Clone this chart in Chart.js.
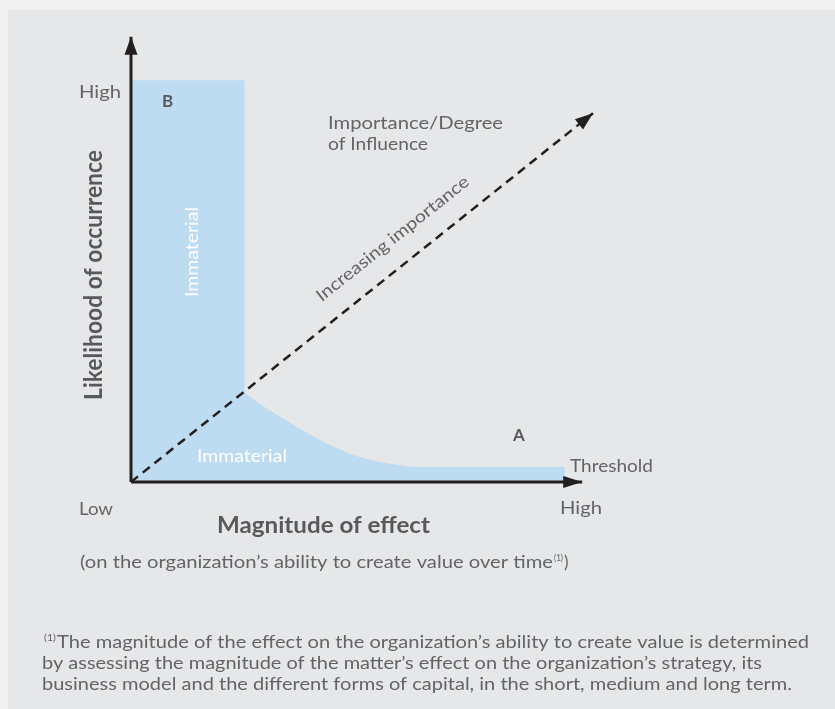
<!DOCTYPE html>
<html>
  <head>
    <title>Materiality threshold</title>
    <script src="https://cdn.jsdelivr.net/npm/chart.js"></script>
    <style>
      body {
        margin: 0;
        background: #f0f0f1;
      }
      #wrap {
        width: 835px;
        height: 709px;
      }
    </style>
  </head>
  <body>
    <div id="wrap"><canvas id="matrix" width="835" height="709"></canvas></div>

    <script>
      // x = magnitude of effect, y = likelihood of occurrence (both 0-100)
      const columnX = [0, 24.2];
      const columnY = [88.9, 88.9];
      const curveX = [24, 28.1, 35.3, 42.3, 49.4, 56.6, 60.9, 92.3];
      const curveY = [19.9, 16.8, 12.2, 8.2, 5.3, 3.8, 3.3, 3.3];
      const importanceX = [0, 98.3];
      const importanceY = [0, 81.6];
      const xAxisX = [0, 96];
      const xAxisY = [0, 0];
      const yAxisX = [0, 0];
      const yAxisY = [0, 98.5];

      const FONT = "Lato, 'Open Sans', sans-serif";
      const GREY = "#636466";
      const DARK = "#231f20";
      const BLUE = "#bddbf1";

      function pts(xs, ys) {
        return xs.map((x, i) => ({ x: x, y: ys[i] }));
      }

      function put(ctx, t, x, y, o) {
        ctx.save();
        ctx.font = (o.bold ? "bold " : "") + o.size + "px " + FONT;
        ctx.fillStyle = o.color || GREY;
        ctx.textAlign = o.align || "left";
        ctx.textBaseline = "alphabetic";
        ctx.translate(x, y);
        if (o.rot) ctx.rotate((o.rot * Math.PI) / 180);
        if (o.w) {
          const m = ctx.measureText(t).width;
          ctx.scale(o.w / m, 1);
        }
        ctx.fillText(t, 0, 0);
        ctx.restore();
      }

      const panel = {
        id: "panel",
        beforeDraw(chart) {
          const c = chart.ctx;
          c.save();
          c.fillStyle = "#e6e7e8";
          c.fillRect(8, 10, chart.width - 8, chart.height - 10);
          c.restore();
        },
      };

      // arrow head at the last point of datasets that ask for one
      const arrows = {
        id: "arrows",
        afterDatasetsDraw(chart) {
          const c = chart.ctx;
          chart.data.datasets.forEach((ds, i) => {
            if (!ds.arrow) return;
            const p = chart.getDatasetMeta(i).data;
            const a = p[p.length - 2];
            const b = p[p.length - 1];
            const ang = Math.atan2(b.y - a.y, b.x - a.x);
            const len = ds.arrow[0];
            const half = ds.arrow[1] / 2;
            c.save();
            c.translate(b.x, b.y);
            c.rotate(ang);
            c.fillStyle = DARK;
            c.beginPath();
            c.moveTo(0, 0);
            c.lineTo(-len, -half);
            c.lineTo(-len, half);
            c.closePath();
            c.fill();
            c.restore();
          });
        },
      };

      const texts = {
        id: "texts",
        afterDraw(chart) {
          const c = chart.ctx;
          put(c, "High", 121, 98, { size: 17, align: "right", w: 42 });
          put(c, "B", 162, 107, { size: 17, bold: true, color: "#58595b" });
          put(c, "Immaterial", 198, 252, { size: 17, rot: -90, align: "center", w: 90, color: "#ffffff" });
          put(c, "Likelihood of occurrence", 102, 275, { size: 25, bold: true, rot: -90, align: "center", w: 250, color: "#58595b" });
          put(c, "Importance/Degree", 328, 129, { size: 17, w: 175 });
          put(c, "of Influence", 328, 150, { size: 17, w: 100 });
          put(c, "Increasing importance", 396, 243, { size: 17, rot: -38.5, align: "center", w: 190 });
          put(c, "Immaterial", 197, 462, { size: 17, w: 90, color: "#ffffff" });
          put(c, "A", 513, 441, { size: 17, bold: true, color: "#58595b" });
          put(c, "Threshold", 570, 472, { size: 17, w: 83 });
          put(c, "High", 560, 514, { size: 17, w: 42 });
          put(c, "Low", 79, 515, { size: 17, w: 34 });
          put(c, "Magnitude of effect", 217, 533, { size: 22, bold: true, w: 213, color: "#58595b" });
          put(c, "(on the organization\u2019s ability to create value over time", 80, 568, { size: 17, w: 473 });
          put(c, "(1)", 554, 561, { size: 10, w: 9 });
          put(c, ")", 564, 568, { size: 17 });
          put(c, "(1)", 44, 641, { size: 10, w: 12 });
          put(c, "The magnitude of the effect on the organization\u2019s ability to create value is determined", 57, 648, { size: 18, w: 752 });
          put(c, "by assessing the magnitude of the matter\u2019s effect on the organization\u2019s strategy, its", 42, 669, { size: 18, w: 720 });
          put(c, "business model and the different forms of capital, in the short, medium and long term.", 42, 690, { size: 18, w: 750 });
        },
      };

      const zoneStyle = {
        fill: "origin",
        backgroundColor: BLUE,
        borderWidth: 0,
        borderColor: "rgba(0,0,0,0)",
        pointRadius: 0,
        order: 3,
        clip: false,
      };

      window.onload = () => {
        new Chart(document.getElementById("matrix").getContext("2d"), {
          type: "line",
          data: {
            datasets: [
              Object.assign({ label: "Immaterial (B)", data: pts(columnX, columnY), tension: 0 }, zoneStyle),
              Object.assign({ label: "Immaterial (A)", data: pts(curveX, curveY), cubicInterpolationMode: "monotone" }, zoneStyle),
              {
                label: "Increasing importance",
                data: pts(importanceX, importanceY),
                borderColor: DARK,
                borderWidth: 2.5,
                borderDash: [9, 6],
                pointRadius: 0,
                fill: false,
                order: 2,
                clip: false,
                arrow: [18, 13],
              },
              {
                label: "x axis",
                data: pts(xAxisX, xAxisY),
                borderColor: DARK,
                borderWidth: 3,
                pointRadius: 0,
                fill: false,
                order: 1,
                clip: false,
                arrow: [19, 12],
              },
              {
                label: "y axis",
                data: pts(yAxisX, yAxisY),
                borderColor: DARK,
                borderWidth: 3,
                pointRadius: 0,
                fill: false,
                order: 1,
                clip: false,
                arrow: [18, 13],
              },
            ],
          },
          options: {
            responsive: false,
            devicePixelRatio: 1,
            animation: false,
            layout: { padding: { left: 131, right: 234, top: 30, bottom: 227 } },
            scales: {
              x: { type: "linear", min: 0, max: 100, display: false },
              y: { type: "linear", min: 0, max: 100, display: false },
            },
            plugins: {
              legend: { display: false },
              tooltip: { enabled: false },
            },
          },
          plugins: [panel, arrows, texts],
        });
      };
    </script>
  </body>
</html>
